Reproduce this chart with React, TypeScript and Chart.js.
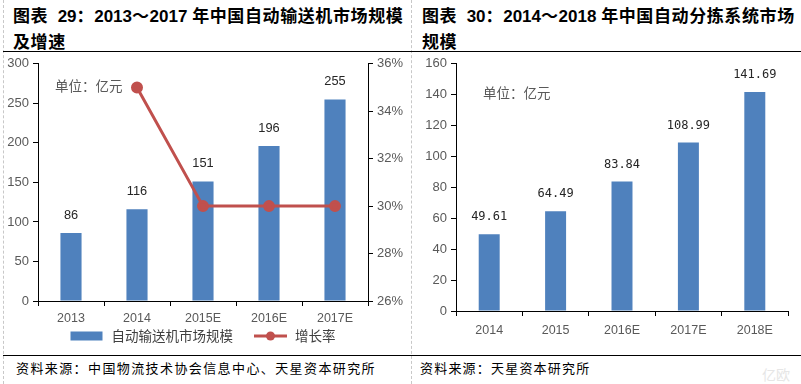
import React, { useEffect, useRef } from "react";
import { Chart, registerables } from "chart.js";

Chart.register(...registerables);

// ---- Data ----
const leftCategories = ["2013", "2014", "2015E", "2016E", "2017E"];
const leftMarketSize = [86, 116, 151, 196, 255];
const leftGrowthRate = [null, 35, 30, 30, 30];
const leftValueLabels = ["86", "116", "151", "196", "255"];

const rightCategories = ["2014", "2015", "2016E", "2017E", "2018E"];
const rightMarketSize = [49.61, 64.49, 83.84, 108.99, 141.69];
const rightValueLabels = ["49.61", "64.49", "83.84", "108.99", "141.69"];

const leftSeriesNames = ["自动输送机市场规模", "增长率"];
const rightSeriesName = "自动分拣系统市场规模";

const BLUE = "#4F81BD";
const RED = "#C0504D";
const TICK_GRAY = "#595959";
const SANS = "'Liberation Sans', Arial, sans-serif";
const CJK = "'Noto Sans CJK SC', sans-serif";

const barLabelPlugin = {
  id: "barLabels",
  afterDatasetsDraw(chart: any, _args: any, opts: any) {
    if (!opts || !opts.labels) return;
    const meta = chart.getDatasetMeta(0);
    const ctx = chart.ctx;
    ctx.save();
    ctx.font = opts.font;
    ctx.fillStyle = opts.color;
    ctx.textAlign = "center";
    ctx.textBaseline = "middle";
    meta.data.forEach((el: any, i: number) => {
      ctx.fillText(opts.labels[i], el.x, el.y - opts.offset);
    });
    ctx.restore();
  },
};

const comboLegendPlugin = {
  id: "comboLegend",
  afterDraw(chart: any, _args: any, opts: any) {
    if (!opts || !opts.show) return;
    const { ctx, chartArea } = chart;
    const ds = chart.data.datasets;
    ctx.save();
    ctx.font = opts.font;
    const symW = 33;
    const widths = ds.map((d: any) => symW + 8 + ctx.measureText(d.label).width);
    const total = widths.reduce((a: number, b: number) => a + b, 0) + opts.gap * (ds.length - 1);
    let x = (chartArea.left + chartArea.right) / 2 - total / 2;
    const y = chartArea.bottom + opts.offsetY;
    ds.forEach((d: any, i: number) => {
      if (d.type === "line") {
        ctx.strokeStyle = d.borderColor;
        ctx.lineWidth = 3;
        ctx.beginPath();
        ctx.moveTo(x, y);
        ctx.lineTo(x + symW, y);
        ctx.stroke();
        ctx.fillStyle = d.borderColor;
        ctx.beginPath();
        ctx.arc(x + symW / 2, y, 4.5, 0, Math.PI * 2);
        ctx.fill();
      } else {
        ctx.fillStyle = d.backgroundColor;
        ctx.fillRect(x, y - 4.5, symW - 1, 9);
      }
      ctx.fillStyle = opts.color;
      ctx.textAlign = "left";
      ctx.textBaseline = "middle";
      ctx.fillText(d.label, x + symW + 8, y);
      x += widths[i] + opts.gap;
    });
    ctx.restore();
  },
};

const axisGrid = {
  display: true,
  drawOnChartArea: false,
  drawTicks: true,
  tickLength: 5,
  color: "#000",
  tickColor: "#000",
};

function LeftChart() {
  const ref = useRef<HTMLCanvasElement>(null);
  useEffect(() => {
    if (!ref.current) return;
    const chart = new Chart(ref.current, {
      type: "bar",
      data: {
        labels: leftCategories,
        datasets: [
          {
            type: "bar",
            label: leftSeriesNames[0],
            data: leftMarketSize,
            backgroundColor: BLUE,
            yAxisID: "y",
            barPercentage: 0.32,
            categoryPercentage: 1,
            order: 2,
          } as any,
          {
            type: "line",
            label: leftSeriesNames[1],
            data: leftGrowthRate,
            borderColor: RED,
            backgroundColor: RED,
            borderWidth: 3,
            pointRadius: 4.5,
            pointBackgroundColor: RED,
            pointBorderColor: RED,
            yAxisID: "y1",
            order: 1,
          } as any,
        ],
      },
      options: {
        responsive: false,
        animation: false,
        layout: { padding: { top: 10, bottom: 22, left: 0, right: 0 } },
        plugins: {
          legend: { display: false },
          tooltip: { enabled: false },
          barLabels: {
            labels: leftValueLabels,
            font: `12.8px ${SANS}`,
            color: "#262626",
            offset: 18,
          },
          comboLegend: {
            show: true,
            font: `13.5px ${CJK}`,
            color: "#404040",
            gap: 21,
            offsetY: 35,
          },
        } as any,
        scales: {
          x: {
            offset: true,
            grid: { ...axisGrid, offset: true },
            border: { color: "#000", width: 1 },
            ticks: { color: TICK_GRAY, font: { family: SANS, size: 12.5 }, padding: 5 },
            afterFit: (s: any) => {
              s.height = 27;
            },
          },
          y: {
            position: "left",
            min: 0,
            max: 300,
            grid: axisGrid,
            border: { color: "#000", width: 1 },
            ticks: { stepSize: 50, color: TICK_GRAY, font: { family: SANS, size: 13 }, padding: 4 },
            afterFit: (s: any) => {
              s.width = 38;
            },
          },
          y1: {
            position: "right",
            min: 26,
            max: 36,
            grid: axisGrid,
            border: { color: "#000", width: 1 },
            ticks: {
              stepSize: 2,
              color: TICK_GRAY,
              font: { family: SANS, size: 13 },
              padding: 4,
              callback: (v: any) => `${v}%`,
            },
            afterFit: (s: any) => {
              s.width = 37;
            },
          },
        },
      } as any,
      plugins: [barLabelPlugin, comboLegendPlugin],
    });
    return () => chart.destroy();
  }, []);
  return <canvas ref={ref} width={405} height={298} style={{ position: "absolute", left: 0, top: 52 }} />;
}

function RightChart() {
  const ref = useRef<HTMLCanvasElement>(null);
  useEffect(() => {
    if (!ref.current) return;
    const chart = new Chart(ref.current, {
      type: "bar",
      data: {
        labels: rightCategories,
        datasets: [
          {
            label: rightSeriesName,
            data: rightMarketSize,
            backgroundColor: BLUE,
            barPercentage: 0.316,
            categoryPercentage: 1,
          },
        ],
      },
      options: {
        responsive: false,
        animation: false,
        layout: { padding: { top: 11, bottom: 0, left: 0, right: 13 } },
        plugins: {
          legend: { display: false },
          tooltip: { enabled: false },
          barLabels: {
            labels: rightValueLabels,
            font: `12px 'DejaVu Sans Mono', monospace`,
            color: "#262626",
            offset: 17,
          },
        } as any,
        scales: {
          x: {
            offset: true,
            grid: { ...axisGrid, offset: true },
            border: { color: "#000", width: 1 },
            ticks: { color: TICK_GRAY, font: { family: SANS, size: 12.5 }, padding: 7 },
            afterFit: (s: any) => {
              s.height = 39;
            },
          },
          y: {
            min: 0,
            max: 160,
            grid: axisGrid,
            border: { color: "#000", width: 1 },
            ticks: { stepSize: 20, color: TICK_GRAY, font: { family: SANS, size: 13 }, padding: 4 },
            afterFit: (s: any) => {
              s.width = 44;
            },
          },
        },
      } as any,
      plugins: [barLabelPlugin],
    });
    return () => chart.destroy();
  }, []);
  return <canvas ref={ref} width={389} height={298} style={{ position: "absolute", left: 412, top: 52 }} />;
}

const titleFont: React.CSSProperties = {
  position: "absolute",
  fontFamily: `${SANS.split(",")[0]}, ${CJK}`,
  fontWeight: 700,
  fontSize: 17,
  lineHeight: "22px",
  color: "#000",
  whiteSpace: "nowrap",
};
const cjkSpan: React.CSSProperties = { fontFamily: CJK, letterSpacing: "0.6px" };

function Title({ left, top, parts }: { left: number; top: number; parts: [string, boolean][] }) {
  return (
    <div style={{ ...titleFont, left, top }}>
      {parts.map(([t, cjk], i) =>
        cjk ? (
          <span key={i} style={cjkSpan}>
            {t}
          </span>
        ) : (
          <span key={i}>{t}</span>
        )
      )}
    </div>
  );
}

const smallText: React.CSSProperties = {
  position: "absolute",
  fontFamily: CJK,
  fontSize: 13,
  lineHeight: "16px",
  whiteSpace: "nowrap",
};

export default function App() {
  return (
    <div
      style={{
        position: "fixed",
        left: 0,
        top: 0,
        width: 801,
        height: 384,
        background: "#fff",
        overflow: "hidden",
      }}
    >
      {/* separators */}
      <div style={{ position: "absolute", left: 3, top: 0, height: 384, borderLeft: "1px dashed #c8c8c8" }} />
      <div style={{ position: "absolute", left: 411, top: 0, height: 384, borderLeft: "1px dashed #c8c8c8" }} />
      <div style={{ position: "absolute", left: 3, top: 51, width: 798, height: 1, background: "#000" }} />
      <div style={{ position: "absolute", left: 3, top: 355, width: 798, height: 1, background: "#000" }} />

      <Title
        left={13}
        top={4}
        parts={[
          ["图表", true],
          ["\u00a0\u00a029", false],
          ["：", true],
          ["2013", false],
          ["～", true],
          ["2017 ", false],
          ["年中国自动输送机市场规模", true],
        ]}
      />
      <Title left={13} top={30} parts={[["及增速", true]]} />
      <Title
        left={422}
        top={4}
        parts={[
          ["图表", true],
          ["\u00a0\u00a030", false],
          ["：", true],
          ["2014", false],
          ["～", true],
          ["2018 ", false],
          ["年中国自动分拣系统市场", true],
        ]}
      />
      <Title left={422} top={30} parts={[["规模", true]]} />

      <LeftChart />
      <RightChart />

      <div style={{ ...smallText, left: 55, top: 77, color: TICK_GRAY, fontSize: 13.5 }}>单位：亿元</div>
      <div style={{ ...smallText, left: 483, top: 84, color: TICK_GRAY, fontSize: 13.5 }}>单位：亿元</div>

      <div style={{ ...smallText, left: 16, top: 360, color: "#000", letterSpacing: "1.4px" }}>
        资料来源：中国物流技术协会信息中心、天星资本研究所
      </div>
      <div style={{ ...smallText, left: 420, top: 360, color: "#000", letterSpacing: "1.2px" }}>
        资料来源：天星资本研究所
      </div>
      <div style={{ ...smallText, left: 762, top: 366, color: "#e6e6e6", fontSize: 14 }}>亿欧</div>
    </div>
  );
}
